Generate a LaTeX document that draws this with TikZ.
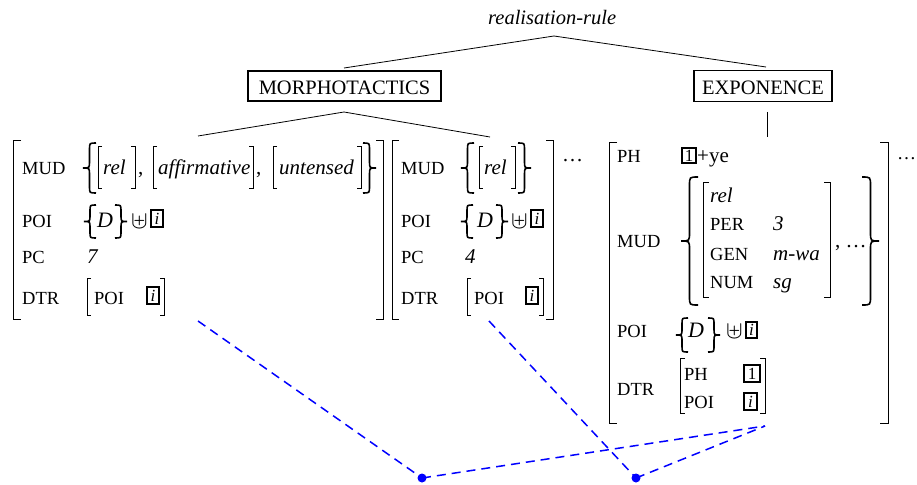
\documentclass[tikz,border=0pt]{standalone}
\usepackage{fontspec}
\setmainfont{Liberation Serif}
\newcommand\LBr[4]{\draw[brk] ({#1+#4},#2) -- (#1,#2) -- (#1,#3) -- ({#1+#4},#3);}
\newcommand\RBr[4]{\draw[brk] ({#1-#4},#2) -- (#1,#2) -- (#1,#3) -- ({#1-#4},#3);}
\newcommand\LBc[4]{\draw[brc] ({#1+#4},#2) .. controls ({#1+#4/2},#2) .. ({#1+#4/2},{#2+#4/2}) -- ({#1+#4/2},{(#2+#3)/2-#4/2}) .. controls ({#1+#4/2},{(#2+#3)/2}) .. (#1,{(#2+#3)/2}) .. controls ({#1+#4/2},{(#2+#3)/2}) .. ({#1+#4/2},{(#2+#3)/2+#4/2}) -- ({#1+#4/2},{#3-#4/2}) .. controls ({#1+#4/2},#3) .. ({#1+#4},#3);}
\newcommand\RBc[4]{\draw[brc] ({#1-#4},#2) .. controls ({#1-#4/2},#2) .. ({#1-#4/2},{#2+#4/2}) -- ({#1-#4/2},{(#2+#3)/2-#4/2}) .. controls ({#1-#4/2},{(#2+#3)/2}) .. (#1,{(#2+#3)/2}) .. controls ({#1-#4/2},{(#2+#3)/2}) .. ({#1-#4/2},{(#2+#3)/2+#4/2}) -- ({#1-#4/2},{#3-#4/2}) .. controls ({#1-#4/2},#3) .. ({#1-#4},#3);}
\begin{document}
\begin{tikzpicture}[x=1pt,y=-1pt,
  lbl/.style={anchor=base west,inner sep=0pt,font=\fontsize{18.5}{20}\selectfont},
  val/.style={anchor=base west,inner sep=0pt,font=\fontsize{21}{24}\selectfont\itshape},
  rom/.style={anchor=base west,inner sep=0pt,font=\fontsize{21}{24}\selectfont},
  ups/.style={anchor=base west,inner sep=0pt,font=\fontsize{25}{28}\selectfont},
  hdbox/.style={draw,line width=1.4pt,inner sep=0pt,text height=17pt,text depth=0pt,font=\fontsize{20.5}{24}\selectfont},
  tagbox/.style={draw,line width=1.4pt,inner sep=0pt,font=\fontsize{17}{18}\selectfont},
  brk/.style={line width=1pt},
  brc/.style={line width=1.6pt},
  tree/.style={line width=0.8pt},
  link/.style={blue,line width=1.5pt,dash pattern=on 9pt off 6pt},
  dot/.style={circle,fill=blue,inner sep=0pt,minimum size=9pt}
]
\useasboundingbox (0,0) rectangle (917,484);
% header tree
\node[anchor=base west,inner sep=0pt,font=\fontsize{20.5}{24}\selectfont\itshape] (rr) at (488,25) {realisation-rule};
\node[hdbox,minimum width=193pt,minimum height=30pt] (morph) at (344.5,86) {MORPHOTACTICS};
\node[hdbox,minimum width=138pt,minimum height=31pt] (expo) at (763,86) {EXPONENCE};
\coordinate (apex) at (554,36);
\coordinate (morphtop) at (344,68);
\coordinate (expotop) at (766,67);
\coordinate (mfoot) at (344,112);
\coordinate (a1top) at (198,136);
\coordinate (a2top) at (490,137);
\coordinate (efoot) at (767,112);
\coordinate (a3top) at (767,137);
\draw[tree] (morphtop) -- (apex) -- (expotop);
\draw[tree] (a1top) -- (mfoot) -- (a2top);
\draw[tree] (efoot) -- (a3top);
% AVM 1
\LBr{13}{140}{319}{8} \RBr{383}{140}{319}{7}
\node[lbl] (a1mud) at (22,174) {MUD};
\node[lbl] (a1poi) at (22,227) {POI};
\node[lbl] (a1pc) at (22,263) {PC};
\node[lbl] (a1dtr) at (22,304) {DTR};
\LBc{83}{143}{193}{13}
\LBr{98}{146}{188}{4} \node[val] (a1rel) at (103,174) {rel}; \RBr{135}{146}{188}{4}
\node[rom] (a1c1) at (138,174) {,};
\LBr{153}{146}{188}{4} \node[val] (a1aff) at (158,174) {affirmative}; \RBr{253}{146}{188}{4}
\node[rom] (a1c2) at (256,174) {,};
\LBr{273}{146}{188}{4} \node[val] (a1unt) at (279,174) {untensed}; \RBr{361}{146}{188}{4}
\RBc{376}{143}{193}{13}
\LBc{84}{205}{238}{12}
\node[val,font=\fontsize{22}{24}\selectfont\itshape] (a1D) at (97,227) {D};
\RBc{127}{205}{238}{12}
\node[ups] (a1up) at (131,228) {$\uplus$};
\node[tagbox,minimum width=12pt,minimum height=17pt] (a1i) at (157,218.5) {\itshape i};
\node[val] (a1seven) at (87,263) {7};
\LBr{87}{278}{315}{4}
\node[lbl] (a1dpoi) at (94,304) {POI};
\node[tagbox,minimum width=12pt,minimum height=17pt] (a1di) at (153,295.5) {\itshape i};
\RBr{164}{278}{315}{4}
% AVM 2
\LBr{392}{140}{319}{7} \RBr{553}{140}{319}{7}
\node[lbl] (a2mud) at (401,174) {MUD};
\node[lbl] (a2poi) at (401,227) {POI};
\node[lbl] (a2pc) at (401,263) {PC};
\node[lbl] (a2dtr) at (401,304) {DTR};
\LBc{461}{143}{193}{13}
\LBr{479}{146}{188}{4} \node[val] (a2rel) at (484,174) {rel}; \RBr{515}{146}{188}{4}
\RBc{531}{143}{193}{13}
\node[rom] (a2dots) at (562,161) {\dots};
\LBc{461}{205}{238}{12}
\node[val,font=\fontsize{22}{24}\selectfont\itshape] (a2D) at (477,227) {D};
\RBc{508}{205}{238}{12}
\node[ups] (a2up) at (511,228) {$\uplus$};
\node[tagbox,minimum width=12pt,minimum height=17pt] (a2i) at (537,218.5) {\itshape i};
\node[val] (a2four) at (465,263) {4};
\LBr{467}{278}{315}{4}
\node[lbl] (a2dpoi) at (474,304) {POI};
\node[tagbox,minimum width=12pt,minimum height=17pt] (a2di) at (532,295.5) {\itshape i};
\RBr{543}{278}{315}{4}
% AVM 3
\LBr{609}{142}{423}{8} \RBr{888}{142}{423}{8}
\node[anchor=base west,inner sep=0pt,font=\fontsize{19}{20}\selectfont] (a3dots) at (897,159) {\dots};
\node[lbl] (a3ph) at (617,162) {PH};
\node[lbl] (a3mud) at (617,247) {MUD};
\node[lbl] (a3poi) at (617,337) {POI};
\node[lbl] (a3dtr) at (617,395) {DTR};
\node[tagbox,minimum width=14pt,minimum height=15pt] (a3one) at (689,155.5) {1};
\node[rom] (a3ye) at (697,162) {+ye};
\LBc{681}{177}{305}{17}
\LBr{703}{182}{297}{6}
\node[val] (a3rel) at (710,202) {rel};
\node[lbl] (a3per) at (710,230) {PER};
\node[val] (a3three) at (773,230) {3};
\node[lbl] (a3gen) at (710,260) {GEN};
\node[val] (a3mwa) at (773,260) {m-wa};
\node[lbl] (a3num) at (710,288) {NUM};
\node[val] (a3sg) at (773,288) {sg};
\RBr{830}{182}{297}{6}
\node[rom] (a3etc) at (835,247) {, \dots};
\RBc{879}{177}{305}{17}
\LBc{676}{318}{352}{12}
\node[val,font=\fontsize{22}{24}\selectfont\itshape] (a3D) at (688,337) {D};
\RBc{720}{318}{352}{12}
\node[ups] (a3up) at (726,338) {$\uplus$};
\node[tagbox,minimum width=11pt,minimum height=16pt] (a3i) at (751.5,330) {\itshape i};
\LBr{680}{358}{413}{5}
\node[lbl] (a3dph) at (684,380) {PH};
\node[tagbox,minimum width=16pt,minimum height=17pt] (a3done) at (752,373.5) {1};
\node[lbl] (a3dpoi) at (684,408) {POI};
\node[tagbox,minimum width=13pt,minimum height=17pt] (a3di) at (750.5,401.5) {\itshape i};
\RBr{765}{358}{413}{5}
% links
\coordinate (s1) at (198,321);
\coordinate (s2) at (489,321);
\coordinate (s3) at (765,426);
\node[dot] (d1) at (422,478) {};
\node[dot] (d2) at (636,478) {};
\draw[link] (s1) -- (d1.center);
\draw[link] (s2) -- (d2.center);
\draw[link] (d1.center) -- (s3);
\draw[link] (d2.center) -- (s3);
\end{tikzpicture}
\end{document}
